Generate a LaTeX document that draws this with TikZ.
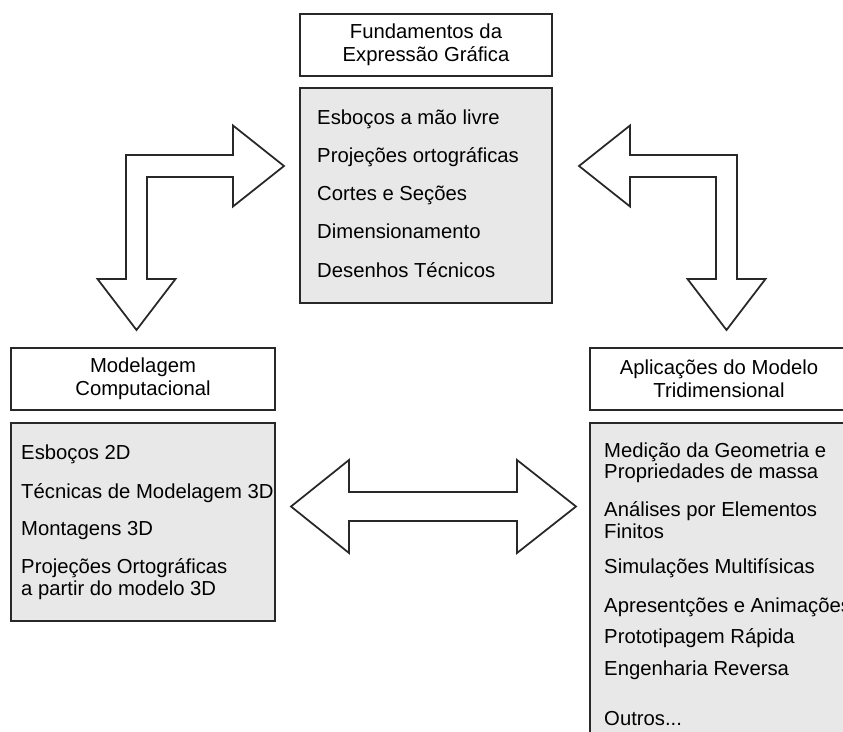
\documentclass[tikz,border=0pt]{standalone}
\usepackage{fontspec}
\setmainfont{Liberation Sans}
\definecolor{boxgray}{RGB}{232,232,232}
\definecolor{linegray}{RGB}{40,40,40}

\begin{document}
\begin{tikzpicture}[x=0.03cm,y=-0.03cm,font=\fontsize{17.3}{19.5}\selectfont,
  titlebox/.style={draw=linegray,line width=1.5pt,fill=white,align=center,minimum height=1.86cm},
  listbox/.style={draw=linegray,line width=1.5pt,fill=boxgray},
  item/.style={anchor=base west,inner sep=0pt},
  blockarrow/.style={draw=linegray,line width=1.5pt,fill=white,line join=miter}]
  \useasboundingbox (0,0) rectangle (843,732);
  \clip (0,0) rectangle (843,732);
  % Fundamentos
  \node[titlebox,minimum width=7.56cm] (fund) at (426,45) {Fundamentos da\\Expressão Gráfica};
  \node[listbox,minimum width=7.56cm,minimum height=6.45cm] (fundlist) at (426,195.5) {};
  \foreach \y/\t [count=\i] in {125/Esboços a mão livre,162/Projeções ortográficas,
      200/Cortes e Seções,238/Dimensionamento,277/Desenhos Técnicos}
    \node[item] (fund\i) at (317,\y) {\t};
  % Modelagem
  \node[titlebox,minimum width=7.92cm] (mod) at (143,379) {Modelagem\\Computacional};
  \node[listbox,minimum width=7.92cm,minimum height=5.94cm] (modlist) at (143,522) {};
  \foreach \y/\t [count=\i] in {459/Esboços 2D,498/Técnicas de Modelagem 3D,535/Montagens 3D,
      573/Projeções Ortográficas,595/a partir do modelo 3D}
    \node[item] (mod\i) at (21,\y) {\t};
  % Aplicacoes
  \node[titlebox,minimum width=7.74cm] (apl) at (719,379) {Aplicações do Modelo\\Tridimensional};
  \node[listbox,minimum width=7.74cm,minimum height=10.11cm] (apllist) at (719,591.5) {};
  \foreach \y/\t [count=\i] in {457/Medição da Geometria e,478/Propriedades de massa,
      516/Análises por Elementos,538/Finitos,573/Simulações Multifísicas,
      612/Apresentções e Animações,643/Prototipagem Rápida,675/Engenharia Reversa,725/{Outros...}}
    \node[item] (apl\i) at (604,\y) {\t};
  % setas
  \draw[blockarrow] (284,166) -- (233,125.5) -- (233,155) -- (126,155) -- (126,279) -- (97.5,279)
    -- (136.5,330) -- (175.5,279) -- (147,279) -- (147,177) -- (233,177) -- (233,206.5) -- cycle;
  \draw[blockarrow] (579,166) -- (630,125.5) -- (630,155) -- (737,155) -- (737,279) -- (765.5,279)
    -- (726.5,330) -- (687.5,279) -- (716,279) -- (716,177) -- (630,177) -- (630,206.5) -- cycle;
  \draw[blockarrow] (291,506.5) -- (349,460) -- (349,492) -- (517,492) -- (517,460) -- (576,506.5)
    -- (517,553) -- (517,521) -- (349,521) -- (349,553) -- cycle;
\end{tikzpicture}
\end{document}
